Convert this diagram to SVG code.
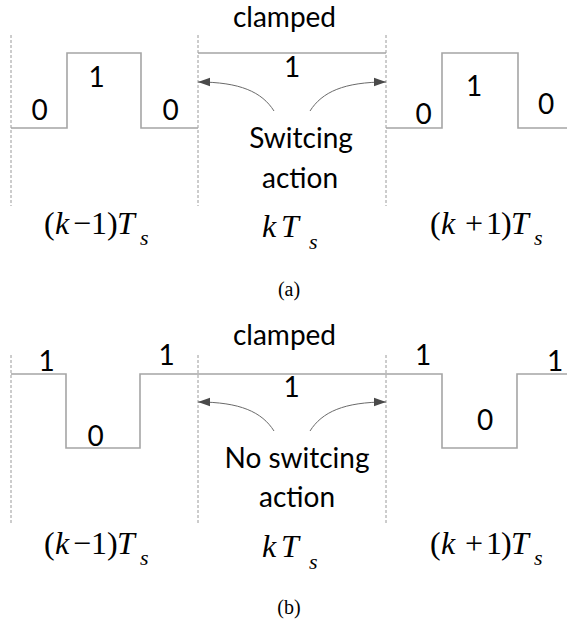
<svg xmlns="http://www.w3.org/2000/svg" width="567" height="623" viewBox="0 0 567 623">
  <style>
    .wave { fill: none; stroke: #a5a5a5; stroke-width: 1.6; }
    .grid { fill: none; stroke: #9a9a9a; stroke-width: 1; stroke-dasharray: 3 2; }
    .arc { fill: none; stroke: #6a6a6a; stroke-width: 1; marker-end: url(#head); }
    .lbl { font-family: Lato, "Open Sans", sans-serif; font-size: 28px; fill: #000; text-anchor: middle; }
    .math { font-family: "Liberation Serif", "Times New Roman", serif; font-size: 32px; fill: #000; }
    .it { font-style: italic; }
    .sub { font-family: "Liberation Serif", "Times New Roman", serif; font-style: italic; font-size: 22px; fill: #000; }
    .cap { font-family: "Liberation Serif", "Times New Roman", serif; font-size: 20px; fill: #000; text-anchor: middle; }
  </style>
  <defs>
    <marker id="head" markerUnits="userSpaceOnUse" markerWidth="14" markerHeight="10" refX="12" refY="5" orient="auto">
      <path d="M0 0.8 L12 5 L0 9.2 Z" fill="#4a4a4a"/>
    </marker>
  </defs>

  <rect width="567" height="623" fill="#fff"/>

  <!-- (a) switching action -->
  <g id="panel-a">
    <g id="a-grid">
      <line class="grid" x1="11" y1="35" x2="11" y2="206"/>
      <line class="grid" x1="198" y1="35" x2="198" y2="206"/>
      <line class="grid" x1="386" y1="35" x2="386" y2="206"/>
    </g>
    <g id="a-prev">
      <path class="wave" d="M11 128 H67 V53 H141 V128 H198"/>
      <text class="lbl" x="39.5" y="120">0</text>
      <text class="lbl" x="96.5" y="87">1</text>
      <text class="lbl" x="170.5" y="120">0</text>
    </g>
    <g id="a-clamped">
      <path class="wave" d="M198 53 H386"/>
      <text class="lbl" x="284.5" y="27">clamped</text>
      <text class="lbl" x="292" y="77">1</text>
    </g>
    <g id="a-next">
      <path class="wave" d="M386 128 H442 V53 H518 V128 H567"/>
      <text class="lbl" x="423.5" y="124">0</text>
      <text class="lbl" x="474" y="96">1</text>
      <text class="lbl" x="546" y="114">0</text>
    </g>
    <g id="a-note">
      <text class="lbl" x="301" y="148">Switcing</text>
      <text class="lbl" x="300" y="188">action</text>
    </g>
    <g id="a-times">
      <text class="math" y="234"><tspan x="44">(</tspan><tspan class="it" x="55">k</tspan><tspan x="73">−</tspan><tspan x="91">1</tspan><tspan x="107">)</tspan><tspan class="it" x="117">T</tspan></text>
      <text class="sub" x="140" y="245">s</text>
      <text class="math it" x="262" y="237">k</text>
      <text class="math it" x="281" y="237">T</text>
      <text class="sub" x="309" y="249">s</text>
      <text class="math" y="234"><tspan x="430">(</tspan><tspan class="it" x="441">k</tspan><tspan x="465">+</tspan><tspan x="486">1</tspan><tspan x="501">)</tspan><tspan class="it" x="511">T</tspan></text>
      <text class="sub" x="534" y="245">s</text>
    </g>
    <text class="cap" x="289" y="296">(a)</text>
  </g>

  <!-- (b) no switching action -->
  <g id="panel-b">
    <g id="b-grid">
      <line class="grid" x1="11" y1="355" x2="11" y2="525"/>
      <line class="grid" x1="198" y1="355" x2="198" y2="525"/>
      <line class="grid" x1="386" y1="355" x2="386" y2="525"/>
    </g>
    <g id="b-prev">
      <path class="wave" d="M11 374 H66 V448 H140 V374 H198"/>
      <text class="lbl" x="46.5" y="371">1</text>
      <text class="lbl" x="95.5" y="446">0</text>
      <text class="lbl" x="166.5" y="365">1</text>
    </g>
    <g id="b-clamped">
      <path class="wave" d="M198 374 H386"/>
      <text class="lbl" x="284.5" y="345">clamped</text>
      <text class="lbl" x="291.5" y="397">1</text>
    </g>
    <g id="b-next">
      <path class="wave" d="M386 374 H442 V448 H517 V374 H567"/>
      <text class="lbl" x="423" y="365">1</text>
      <text class="lbl" x="485" y="430">0</text>
      <text class="lbl" x="555" y="371">1</text>
    </g>
    <g id="b-note">
      <text class="lbl" x="297" y="468">No switcing</text>
      <text class="lbl" x="297" y="507">action</text>
    </g>
    <g id="b-times">
      <text class="math" y="554"><tspan x="44">(</tspan><tspan class="it" x="55">k</tspan><tspan x="73">−</tspan><tspan x="91">1</tspan><tspan x="107">)</tspan><tspan class="it" x="117">T</tspan></text>
      <text class="sub" x="140" y="565">s</text>
      <text class="math it" x="262" y="557">k</text>
      <text class="math it" x="281" y="557">T</text>
      <text class="sub" x="309" y="569">s</text>
      <text class="math" y="554"><tspan x="430">(</tspan><tspan class="it" x="441">k</tspan><tspan x="465">+</tspan><tspan x="486">1</tspan><tspan x="501">)</tspan><tspan class="it" x="511">T</tspan></text>
      <text class="sub" x="534" y="565">s</text>
    </g>
    <text class="cap" x="289" y="614">(b)</text>
  </g>

  <!-- curved arrows pointing at the clamped-interval boundaries -->
  <g id="connectors">
    <path class="arc" d="M274 111 C262 92 240 82 198 82"/>
    <path class="arc" d="M310 111 C322 92 344 82 386 82"/>
    <path class="arc" d="M274 431 C262 412 240 402 198 402"/>
    <path class="arc" d="M310 431 C322 412 344 402 386 402"/>
  </g>
</svg>
